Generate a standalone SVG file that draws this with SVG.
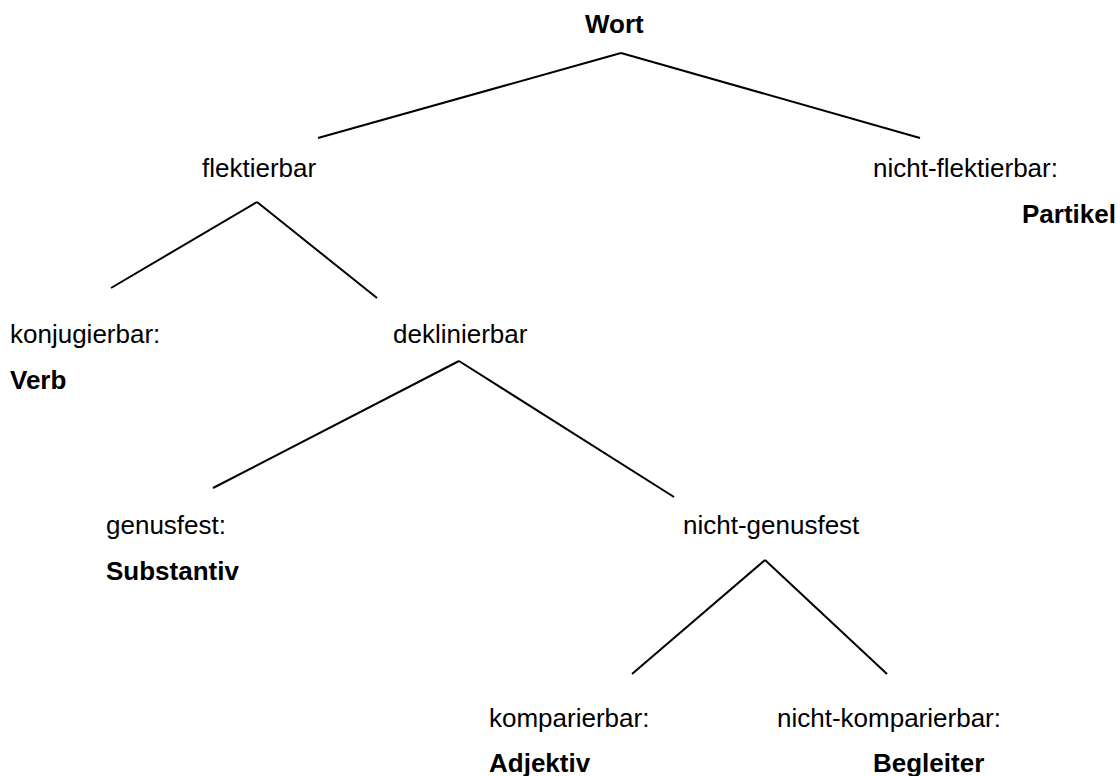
<svg xmlns="http://www.w3.org/2000/svg" width="1120" height="776" viewBox="0 0 1120 776">
<style>
text{font-family:"Liberation Sans",Arial,sans-serif;font-size:26px;fill:#000}
.b{font-weight:bold}
.e line{stroke:#000;stroke-width:2;stroke-linecap:butt}
</style>
<rect width="1120" height="776" fill="#fff"/>
<g class="e" id="connectors">
<line x1="621" y1="53" x2="318" y2="138"/>
<line x1="621" y1="53" x2="920" y2="138"/>
<line x1="257" y1="202" x2="111" y2="288"/>
<line x1="257" y1="202" x2="377" y2="298"/>
<line x1="459" y1="361" x2="213" y2="488"/>
<line x1="459" y1="361" x2="674" y2="497"/>
<line x1="765" y1="560" x2="632" y2="674"/>
<line x1="765" y1="560" x2="887" y2="674"/>
</g>
<g id="wort"><text class="b" x="585" y="33">Wort</text></g>
<g id="flektierbar"><text x="202" y="177">flektierbar</text></g>
<g id="nicht-flektierbar"><text x="873" y="177">nicht-flektierbar:</text><text class="b" x="1022" y="223">Partikel</text></g>
<g id="konjugierbar"><text x="10" y="343">konjugierbar:</text><text class="b" x="10" y="389">Verb</text></g>
<g id="deklinierbar"><text x="393" y="343">deklinierbar</text></g>
<g id="genusfest"><text x="106" y="534">genusfest:</text><text class="b" x="106" y="580">Substantiv</text></g>
<g id="nicht-genusfest"><text x="683" y="534">nicht-genusfest</text></g>
<g id="komparierbar"><text x="489" y="727">komparierbar:</text><text class="b" x="489" y="772">Adjektiv</text></g>
<g id="nicht-komparierbar"><text x="777" y="727">nicht-komparierbar:</text><text class="b" x="873" y="772">Begleiter</text></g>
</svg>
